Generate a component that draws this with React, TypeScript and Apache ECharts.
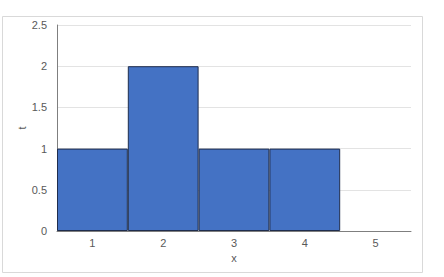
import React, { useEffect, useRef } from "react";
import * as echarts from "echarts";

const categories = ["1", "2", "3", "4", "5"];
const values = [1, 2, 1, 1, 0];
const yTicks = [0, 0.5, 1, 1.5, 2, 2.5];

export default function App() {
  const ref = useRef<HTMLDivElement>(null);
  useEffect(() => {
    const chart = echarts.init(ref.current!, null, { renderer: "svg" });
    chart.setOption({
      animation: false,
      backgroundColor: "#ffffff",
      textStyle: { fontFamily: "Liberation Sans, Arial, sans-serif" },
      graphic: [
        {
          type: "rect",
          shape: { x: 2.5, y: 16.5, width: 420, height: 256 },
          style: { fill: "none", stroke: "#d9d9d9", lineWidth: 1 },
          silent: true,
          z: -1,
        },
      ],
      grid: { left: 57, right: 33, top: 25, bottom: 46 },
      xAxis: {
        type: "category",
        data: categories,
        name: "x",
        nameLocation: "middle",
        nameGap: 20,
        nameTextStyle: { color: "#595959", fontSize: 11 },
        axisLine: { lineStyle: { color: "#7f7f7f", width: 1 } },
        axisTick: { show: false },
        axisLabel: { color: "#595959", fontSize: 11, margin: 6 },
      },
      yAxis: {
        type: "value",
        min: 0,
        max: 2.5,
        interval: 0.5,
        name: "t",
        nameLocation: "middle",
        nameGap: 30,
        nameMoveOverlap: false,
        nameTextStyle: { color: "#595959", fontSize: 11 },
        axisLine: { show: true, lineStyle: { color: "#7f7f7f", width: 1 } },
        axisTick: { show: false },
        axisLabel: {
          color: "#595959",
          fontSize: 11,
          margin: 10,
          formatter: (v: number) => (yTicks.includes(v) ? String(v) : ""),
        },
        splitLine: { lineStyle: { color: "#e3e3e3", width: 1 } },
      },
      series: [
        {
          type: "bar",
          data: values.map((v) =>
            v === 0 ? { value: v, itemStyle: { borderWidth: 0 } } : v
          ),
          barCategoryGap: "0%",
          itemStyle: { color: "#4472c4", borderColor: "#1f2d4d", borderWidth: 1 },
        },
      ],
    });
    return () => chart.dispose();
  }, []);
  return (
    <div
      ref={ref}
      style={{ position: "fixed", left: 0, top: 0, width: 444, height: 277 }}
    />
  );
}
